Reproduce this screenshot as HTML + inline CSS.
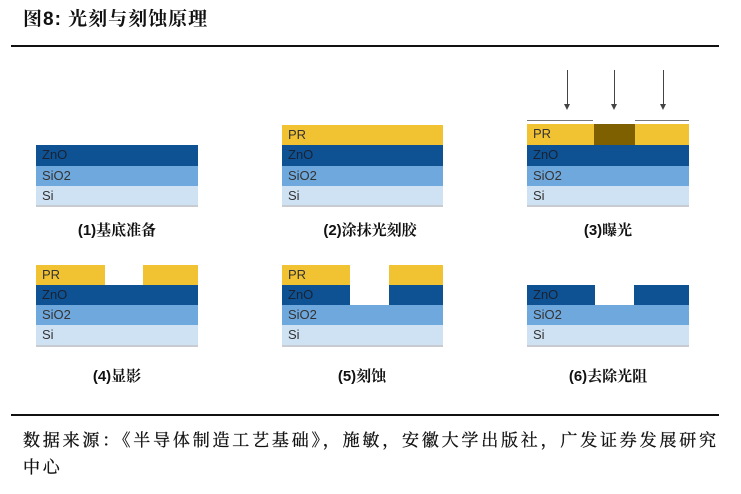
<!DOCTYPE html>
<html><head><meta charset="utf-8"><style>
body{margin:0;width:741px;height:494px;background:#fff;position:relative;overflow:hidden;font-family:"Liberation Sans","Noto Sans CJK SC",sans-serif}
div{position:absolute;box-sizing:border-box}
.pr{background:#f1c232}.zn{background:#0e5293}.so{background:#6fa8dc}.si{background:#cfe2f3;border-bottom:2px solid #c8ccd0}
.t{font-size:13px;color:#333;padding-left:6px;line-height:20px}
.zn.t{color:#1a2233}
.lb{font-size:15px;font-weight:bold;color:#111;text-align:center;width:200px;font-family:"Liberation Sans","Noto Serif CJK SC",serif}
.ar{width:1px;background:#444}
.ah{width:0;height:0;border-left:3px solid transparent;border-right:3px solid transparent;border-top:6px solid #444}
.ml{height:1px;background:#777}
</style></head><body>
<div style="left:23px;top:4px;font-size:19px;font-weight:bold;color:#111;letter-spacing:1px;font-family:'Liberation Sans','Noto Serif CJK SC',serif">图8:&nbsp;光刻与刻蚀原理</div>
<div style="left:11px;top:45px;width:708px;height:1.5px;background:#111"></div>

<div class="zn t" style="left:36px;top:145px;width:162px;height:21px">ZnO</div>
<div class="so t" style="left:36px;top:166px;width:162px;height:20px">SiO2</div>
<div class="si t" style="left:36px;top:186px;width:162px;height:21px">Si</div>
<div class="lb" style="left:17px;top:219px">(1)基底准备</div>

<div class="pr t" style="left:282px;top:125px;width:161px;height:20px">PR</div>
<div class="zn t" style="left:282px;top:145px;width:161px;height:21px">ZnO</div>
<div class="so t" style="left:282px;top:166px;width:161px;height:20px">SiO2</div>
<div class="si t" style="left:282px;top:186px;width:161px;height:21px">Si</div>
<div class="lb" style="left:270px;top:219px">(2)涂抹光刻胶</div>

<div class="ar" style="left:567px;top:70px;height:36px"></div><div class="ah" style="left:564px;top:104px"></div>
<div class="ar" style="left:614px;top:70px;height:36px"></div><div class="ah" style="left:611px;top:104px"></div>
<div class="ar" style="left:663px;top:70px;height:36px"></div><div class="ah" style="left:660px;top:104px"></div>
<div class="ml" style="left:527px;top:120px;width:66px"></div>
<div class="ml" style="left:635px;top:120px;width:54px"></div>
<div class="pr t" style="left:527px;top:124px;width:162px;height:21px">PR</div>
<div style="left:594px;top:124px;width:41px;height:21px;background:#7f6000"></div>
<div class="zn t" style="left:527px;top:145px;width:162px;height:21px">ZnO</div>
<div class="so t" style="left:527px;top:166px;width:162px;height:20px">SiO2</div>
<div class="si t" style="left:527px;top:186px;width:162px;height:21px">Si</div>
<div class="lb" style="left:508px;top:219px">(3)曝光</div>

<div class="pr t" style="left:36px;top:265px;width:69px;height:20px">PR</div>
<div class="pr" style="left:143px;top:265px;width:55px;height:20px"></div>
<div class="zn t" style="left:36px;top:285px;width:162px;height:20px">ZnO</div>
<div class="so t" style="left:36px;top:305px;width:162px;height:20px">SiO2</div>
<div class="si t" style="left:36px;top:325px;width:162px;height:22px">Si</div>
<div class="lb" style="left:17px;top:365px">(4)显影</div>

<div class="pr t" style="left:282px;top:265px;width:68px;height:20px">PR</div>
<div class="pr" style="left:389px;top:265px;width:54px;height:20px"></div>
<div class="zn t" style="left:282px;top:285px;width:68px;height:20px">ZnO</div>
<div class="zn" style="left:389px;top:285px;width:54px;height:20px"></div>
<div class="so t" style="left:282px;top:305px;width:161px;height:20px">SiO2</div>
<div class="si t" style="left:282px;top:325px;width:161px;height:22px">Si</div>
<div class="lb" style="left:262px;top:365px">(5)刻蚀</div>

<div class="zn t" style="left:527px;top:285px;width:68px;height:20px">ZnO</div>
<div class="zn" style="left:634px;top:285px;width:55px;height:20px"></div>
<div class="so t" style="left:527px;top:305px;width:162px;height:20px">SiO2</div>
<div class="si t" style="left:527px;top:325px;width:162px;height:22px">Si</div>
<div class="lb" style="left:508px;top:365px">(6)去除光阻</div>

<div style="left:11px;top:414px;width:708px;height:1.5px;background:#111"></div>
<div style="left:23px;top:427px;width:702px;font-size:17px;letter-spacing:2.8px;line-height:27px;color:#111;font-family:'Liberation Serif','Noto Serif CJK SC',serif;-webkit-text-stroke:0.3px #111">数据来源：《半导体制造工艺基础》，施敏，安徽大学出版社，广发证券发展研究中心</div>
</body></html>
